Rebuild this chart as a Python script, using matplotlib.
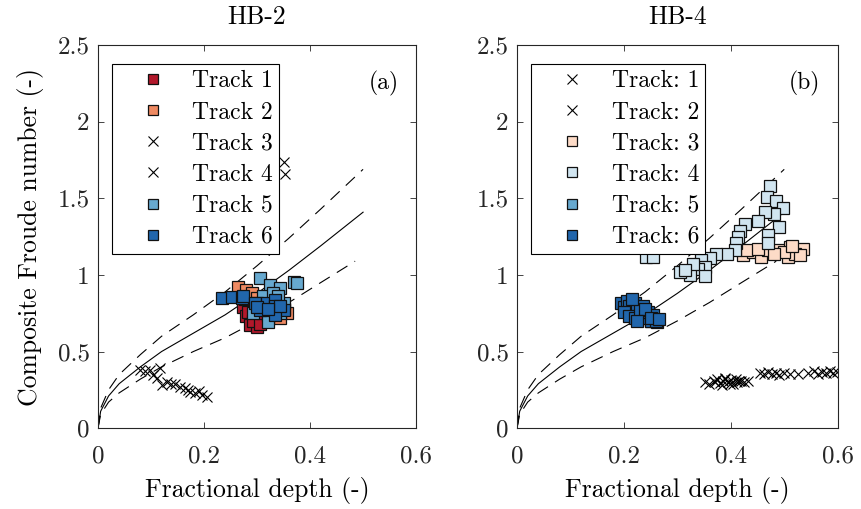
import matplotlib
matplotlib.use("Agg")
import matplotlib.pyplot as plt

plt.rcParams['font.family'] = 'cmr10'
plt.rcParams['mathtext.fontset'] = 'cm'
plt.rcParams['axes.formatter.use_mathtext'] = True
plt.rcParams['lines.scale_dashes'] = False

# model curve and +/-20% band
curve_x = [0, 0.005, 0.02, 0.04, 0.08, 0.12, 0.18, 0.24, 0.30, 0.36, 0.42, 0.50]
curve_mid = [0, 0.11, 0.21, 0.29, 0.40, 0.50, 0.62, 0.74, 0.88, 1.03, 1.19, 1.41]
curve_hi = [0, 0.13, 0.25, 0.35, 0.48, 0.60, 0.74, 0.89, 1.06, 1.24, 1.43, 1.69]
curve_lo_x = [0, 0.005, 0.02, 0.04, 0.08, 0.12, 0.18, 0.24, 0.30, 0.36, 0.42, 0.485]
curve_lo = [0, 0.09, 0.17, 0.23, 0.32, 0.40, 0.50, 0.59, 0.70, 0.82, 0.95, 1.09]

track_colors = ['#b2182b', '#ef8a62', '#fddbc7', '#d1e5f0', '#67a9cf', '#2166ac']

# HB-2
hb2_x1 = [0.274, 0.280, 0.287, 0.300, 0.283, 0.292, 0.296, 0.305, 0.278, 0.310]
hb2_y1 = [0.79, 0.73, 0.67, 0.66, 0.76, 0.70, 0.82, 0.68, 0.84, 0.75]
hb2_x2 = [0.265, 0.280, 0.356, 0.343, 0.290, 0.330, 0.350, 0.320, 0.300]
hb2_y2 = [0.92, 0.90, 0.75, 0.72, 0.88, 0.80, 0.78, 0.74, 0.85]
hb2_x3 = [0.079, 0.089, 0.098, 0.104, 0.117, 0.111, 0.120, 0.130, 0.138, 0.145,
          0.155, 0.164, 0.170, 0.174, 0.183, 0.190, 0.196, 0.205]
hb2_y3 = [0.38, 0.37, 0.38, 0.346, 0.39, 0.325, 0.28, 0.30, 0.29, 0.29,
          0.27, 0.26, 0.25, 0.237, 0.227, 0.24, 0.216, 0.205]
hb2_x4 = [0.350, 0.352]
hb2_y4 = [1.74, 1.66]
hb2_x5 = [0.306, 0.369, 0.375, 0.325, 0.343, 0.312, 0.321, 0.293, 0.343, 0.330, 0.350, 0.300, 0.340]
hb2_y5 = [0.98, 0.957, 0.95, 0.935, 0.915, 0.86, 0.695, 0.75, 0.75, 0.88, 0.82, 0.82, 0.86]
hb2_x6 = [0.233, 0.252, 0.271, 0.274, 0.296, 0.318, 0.334, 0.334, 0.306, 0.350, 0.334, 0.300, 0.343, 0.320]
hb2_y6 = [0.848, 0.858, 0.848, 0.86, 0.815, 0.815, 0.837, 0.80, 0.77, 0.77, 0.74, 0.79, 0.80, 0.78]

# HB-4
hb4_x1 = [0.352, 0.360, 0.368, 0.375, 0.380, 0.385, 0.390, 0.395, 0.400, 0.405,
          0.410, 0.415, 0.420, 0.425, 0.432, 0.370, 0.383, 0.398, 0.412, 0.390]
hb4_y1 = [0.30, 0.29, 0.31, 0.32, 0.295, 0.31, 0.33, 0.30, 0.315, 0.29,
          0.32, 0.305, 0.31, 0.30, 0.31, 0.30, 0.28, 0.29, 0.30, 0.32]
hb4_x2 = [0.455, 0.462, 0.470, 0.478, 0.485, 0.490, 0.500, 0.510, 0.525, 0.545,
          0.555, 0.563, 0.570, 0.578, 0.585, 0.592, 0.598]
hb4_y2 = [0.36, 0.35, 0.365, 0.355, 0.36, 0.345, 0.36, 0.355, 0.355, 0.36,
          0.37, 0.355, 0.365, 0.36, 0.37, 0.36, 0.365]
hb4_x3 = [0.423, 0.442, 0.457, 0.470, 0.490, 0.507, 0.526, 0.535, 0.510, 0.520,
          0.500, 0.430, 0.450, 0.480, 0.530, 0.515]
hb4_y3 = [1.13, 1.15, 1.12, 1.16, 1.16, 1.12, 1.16, 1.17, 1.18, 1.14,
          1.15, 1.16, 1.17, 1.14, 1.13, 1.19]
hb4_x4 = [0.473, 0.467, 0.485, 0.498, 0.480, 0.464, 0.451, 0.426, 0.417, 0.414,
          0.410, 0.407, 0.392, 0.373, 0.361, 0.345, 0.351, 0.339, 0.323, 0.305,
          0.490, 0.470, 0.470, 0.351, 0.242, 0.255, 0.330, 0.315]
hb4_y4 = [1.58, 1.51, 1.48, 1.44, 1.40, 1.41, 1.35, 1.33, 1.29, 1.25,
          1.21, 1.16, 1.14, 1.14, 1.11, 1.10, 1.05, 1.04, 1.00, 1.02,
          1.31, 1.26, 1.21, 0.99, 1.12, 1.12, 1.07, 1.03]
hb4_x5 = [0.250, 0.262, 0.210, 0.240]
hb4_y5 = [0.70, 0.69, 0.78, 0.72]
hb4_x6 = [0.195, 0.200, 0.205, 0.210, 0.215, 0.220, 0.225, 0.230, 0.235, 0.240, 0.245, 0.250,
          0.255, 0.260, 0.200, 0.210, 0.220, 0.230, 0.240, 0.250, 0.215, 0.225, 0.265]
hb4_y6 = [0.82, 0.79, 0.83, 0.80, 0.76, 0.82, 0.78, 0.74, 0.80, 0.72, 0.76, 0.70,
          0.74, 0.70, 0.76, 0.73, 0.72, 0.77, 0.78, 0.72, 0.84, 0.70, 0.71]

hb2_tracks = [(hb2_x1, hb2_y1), (hb2_x2, hb2_y2), (hb2_x3, hb2_y3),
              (hb2_x4, hb2_y4), (hb2_x5, hb2_y5), (hb2_x6, hb2_y6)]
hb4_tracks = [(hb4_x1, hb4_y1), (hb4_x2, hb4_y2), (hb4_x3, hb4_y3),
              (hb4_x4, hb4_y4), (hb4_x5, hb4_y5), (hb4_x6, hb4_y6)]
hb2_cross = [False, False, True, True, False, False]
hb4_cross = [True, True, False, False, False, False]

fig = plt.figure(figsize=(8.62, 5.09), dpi=100)
ax1 = fig.add_axes([0.1137, 0.159, 0.369, 0.752])
ax2 = fig.add_axes([0.5998, 0.159, 0.372, 0.752])


def panel(ax, tracks, cross, fmt, title, tag):
    ax.plot(curve_x, curve_mid, color='k', lw=0.8, zorder=1)
    ax.plot(curve_x, curve_hi, color='k', lw=0.8, dashes=(9, 6), zorder=1)
    ax.plot(curve_lo_x, curve_lo, color='k', lw=0.8, dashes=(9, 6), zorder=1)
    for i, (xs, ys) in enumerate(tracks):
        if cross[i]:
            ax.plot(xs, ys, ls='none', marker='x', ms=7.5, mew=0.8, color='k',
                    label=fmt % (i + 1), zorder=2)
        else:
            ax.plot(xs, ys, ls='none', marker='s', ms=8.5, mew=0.9,
                    mfc=track_colors[i], mec='#111111', label=fmt % (i + 1), zorder=2)
    ax.set_xlim(0, 0.6)
    ax.set_ylim(0, 2.5)
    ax.set_xticks([0, 0.2, 0.4, 0.6])
    ax.set_xticklabels(['0', '0.2', '0.4', '0.6'])
    ax.set_yticks([0, 0.5, 1, 1.5, 2, 2.5])
    ax.set_yticklabels(['0', '0.5', '1', '1.5', '2', '2.5'])
    ax.tick_params(direction='in', top=True, right=True, length=4, width=0.6,
                   labelsize=18, colors='#262626')
    ax.tick_params(axis='x', pad=12.5)
    ax.tick_params(axis='y', pad=6)
    for s in ax.spines.values():
        s.set_linewidth(0.8)
        s.set_color('#262626')
    ax.set_title(title, fontsize=18.5, pad=15)
    ax.set_xlabel('Fractional depth (-)', fontsize=18.5, labelpad=7)
    ax.text(0.897, 0.90, tag, transform=ax.transAxes, fontsize=17,
            ha='center', va='center')
    leg = ax.legend(loc='upper left', bbox_to_anchor=(0.043, 0.95), fontsize=17,
                    frameon=True, fancybox=False, framealpha=1, edgecolor='k',
                    borderpad=0.25, labelspacing=0.38, handlelength=2.97,
                    handletextpad=0.2, borderaxespad=0, markerscale=0.9)
    leg.get_frame().set_linewidth(0.8)


panel(ax1, hb2_tracks, hb2_cross, 'Track %d', 'HB-2', '(a)')
panel(ax2, hb4_tracks, hb4_cross, 'Track: %d', 'HB-4', '(b)')
ax1.set_ylabel('Composite Froude number (-)', fontsize=18.5, labelpad=10)

fig.savefig('out.png', dpi=100)
